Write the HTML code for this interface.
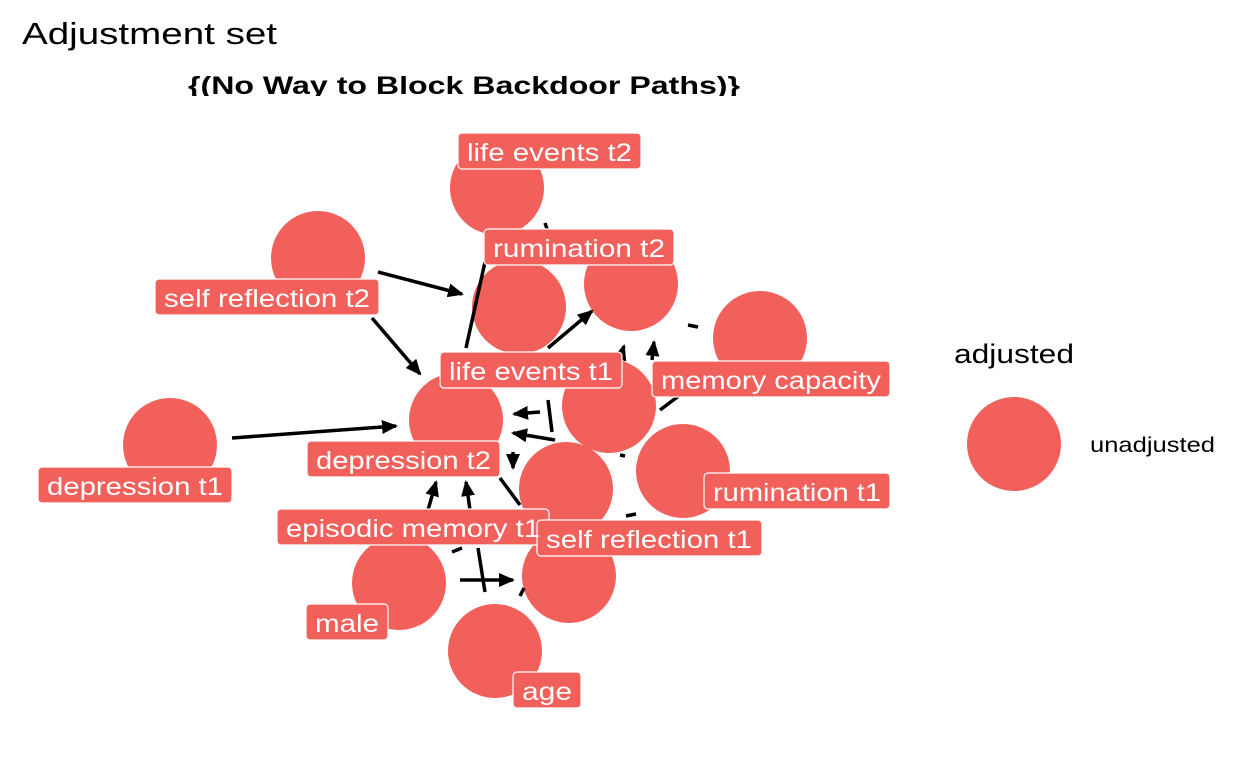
<!DOCTYPE html>
<html><head><meta charset="utf-8"><style>
html,body{margin:0;padding:0;background:#fff;width:1248px;height:768px;overflow:hidden}
svg text{font-family:"Liberation Sans",Arial,sans-serif}
</style></head><body>
<svg width="1248" height="768" viewBox="0 0 1248 768" xmlns="http://www.w3.org/2000/svg">
<defs>
<marker id="a" markerWidth="16" markerHeight="14" refX="14" refY="7" orient="auto" markerUnits="userSpaceOnUse">
<path d="M0,0 L16,7 L0,14 z" fill="#000"/></marker>
<clipPath id="tc"><rect x="0" y="0" width="1248" height="96"/></clipPath>
</defs>
<rect width="1248" height="768" fill="#fff"/>
<text x="22" y="44" font-size="31" fill="#000" textLength="255" lengthAdjust="spacingAndGlyphs">Adjustment set</text>
<text x="188" y="94" font-size="25" font-weight="bold" fill="#000" clip-path="url(#tc)" textLength="552" lengthAdjust="spacingAndGlyphs">{(No Way to Block Backdoor Paths)}</text>

<g fill="#F2605C">
<circle cx="497" cy="188" r="47"/>
<circle cx="318" cy="258" r="47"/>
<circle cx="519" cy="307" r="47"/>
<circle cx="631" cy="284" r="47"/>
<circle cx="760" cy="338" r="47"/>
<circle cx="609" cy="406" r="47"/>
<circle cx="456" cy="420" r="47"/>
<circle cx="170" cy="445" r="47"/>
<circle cx="683" cy="471" r="47"/>
<circle cx="566" cy="489" r="47"/>
<circle cx="569" cy="576" r="47"/>
<circle cx="399" cy="583" r="47"/>
<circle cx="495" cy="651" r="47"/>
<circle cx="1014" cy="444" r="47"/>
</g>

<g stroke="#000" stroke-width="3.5" fill="none">
<line x1="378" y1="272" x2="462" y2="294" marker-end="url(#a)"/>
<line x1="372" y1="318" x2="420" y2="374" marker-end="url(#a)"/>
<line x1="232" y1="438" x2="396" y2="426" marker-end="url(#a)"/>
<line x1="548" y1="348" x2="592" y2="311" marker-end="url(#a)"/>
<line x1="545" y1="223" x2="548" y2="232"/>
<line x1="485" y1="262" x2="466" y2="348"/>
<line x1="688" y1="325" x2="698" y2="327"/>
<line x1="620" y1="358" x2="624" y2="346" marker-end="url(#a)"/>
<line x1="652" y1="360" x2="654" y2="342" marker-end="url(#a)"/>
<line x1="540" y1="412" x2="514" y2="414" marker-end="url(#a)"/>
<line x1="548" y1="400" x2="552" y2="432"/>
<line x1="555" y1="440" x2="513" y2="433" marker-end="url(#a)"/>
<line x1="620" y1="455" x2="625" y2="456"/>
<line x1="660" y1="410" x2="680" y2="395"/>
<line x1="513" y1="452" x2="513" y2="468" marker-end="url(#a)"/>
<line x1="428" y1="510" x2="436" y2="482" marker-end="url(#a)"/>
<line x1="470" y1="510" x2="466" y2="482" marker-end="url(#a)"/>
<line x1="520" y1="505" x2="500" y2="478"/>
<line x1="452" y1="552" x2="462" y2="548"/>
<line x1="478" y1="548" x2="485" y2="592"/>
<line x1="460" y1="580" x2="513" y2="580" marker-end="url(#a)"/>
<line x1="626" y1="516" x2="636" y2="514"/>
<line x1="520" y1="596" x2="524" y2="588"/>
</g>

<g font-size="25" fill="#fff">
<g stroke="#fff" stroke-width="1.2" fill="#F2605C">
<rect x="458" y="133" width="183" height="36" rx="4"/>
<rect x="155" y="279" width="224" height="36" rx="4"/>
<rect x="484" y="229" width="190" height="36" rx="4"/>
<rect x="440" y="352" width="182" height="36" rx="4"/>
<rect x="652" y="361" width="238" height="36" rx="4"/>
<rect x="307" y="441" width="193" height="36" rx="4"/>
<rect x="38" y="467" width="194" height="36" rx="4"/>
<rect x="704" y="473" width="186" height="36" rx="4"/>
<rect x="277" y="509" width="272" height="36" rx="4"/>
<rect x="537" y="520" width="225" height="36" rx="4"/>
<rect x="306" y="604" width="82" height="36" rx="4"/>
<rect x="513" y="672" width="68" height="36" rx="4"/>
</g>
<text x="467" y="161" textLength="165" lengthAdjust="spacingAndGlyphs">life events t2</text>
<text x="164" y="307" textLength="206" lengthAdjust="spacingAndGlyphs">self reflection t2</text>
<text x="493" y="257" textLength="172" lengthAdjust="spacingAndGlyphs">rumination t2</text>
<text x="449" y="380" textLength="164" lengthAdjust="spacingAndGlyphs">life events t1</text>
<text x="661" y="389" textLength="220" lengthAdjust="spacingAndGlyphs">memory capacity</text>
<text x="316" y="469" textLength="175" lengthAdjust="spacingAndGlyphs">depression t2</text>
<text x="47" y="495" textLength="176" lengthAdjust="spacingAndGlyphs">depression t1</text>
<text x="713" y="501" textLength="168" lengthAdjust="spacingAndGlyphs">rumination t1</text>
<text x="286" y="537" textLength="254" lengthAdjust="spacingAndGlyphs">episodic memory t1</text>
<text x="546" y="548" textLength="206" lengthAdjust="spacingAndGlyphs">self reflection t1</text>
<text x="315" y="632" textLength="64" lengthAdjust="spacingAndGlyphs">male</text>
<text x="522" y="700" textLength="50" lengthAdjust="spacingAndGlyphs">age</text>
</g>

<text x="954" y="363" font-size="27" fill="#000" textLength="120" lengthAdjust="spacingAndGlyphs">adjusted</text>
<text x="1090" y="452" font-size="21" fill="#000" textLength="125" lengthAdjust="spacingAndGlyphs">unadjusted</text>
</svg>
</body></html>
